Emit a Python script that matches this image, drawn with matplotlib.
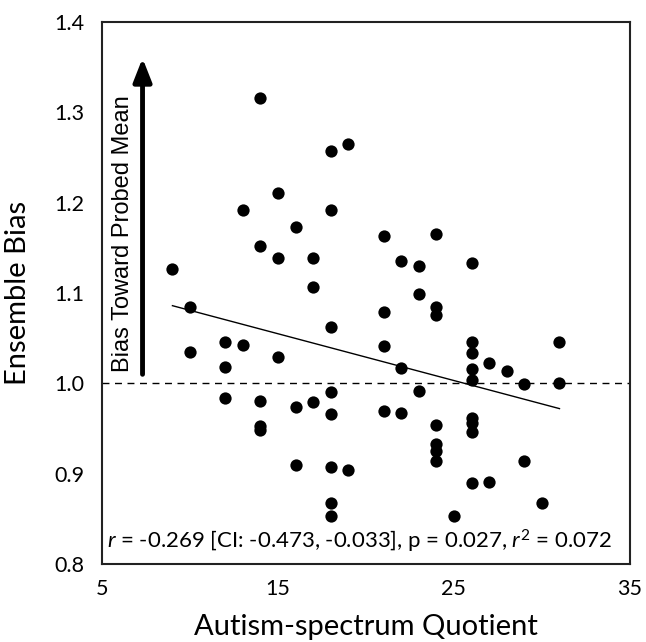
import numpy as np
import matplotlib
matplotlib.use("Agg")
import matplotlib.pyplot as plt

# AQ score and ensemble bias per participant
aq = [9,
      10, 10,
      12, 12, 12,
      13, 13,
      14, 14, 14, 14, 14,
      15, 15, 15,
      16, 16, 16,
      17, 17, 17,
      18, 18, 18, 18, 18, 18, 18, 18,
      19, 19,
      21, 21, 21, 21,
      22, 22, 22,
      23, 23, 23,
      24, 24, 24, 24, 24, 24, 24,
      25,
      26, 26, 26, 26, 26, 26, 26, 26, 26,
      27, 27,
      28,
      29, 29,
      30,
      31, 31]
bias = [1.127,
        1.085, 1.035,
        1.046, 1.018, 0.984,
        1.192, 1.042,
        1.316, 1.152, 0.980, 0.953, 0.948,
        1.211, 1.139, 1.029,
        1.173, 0.974, 0.910,
        1.139, 1.107, 0.979,
        1.257, 1.192, 1.062, 0.990, 0.966, 0.907, 0.868, 0.853,
        1.265, 0.904,
        1.163, 1.079, 1.041, 0.969,
        1.135, 1.017, 0.967,
        1.130, 1.099, 0.991,
        1.165, 1.085, 1.076, 0.954, 0.933, 0.925, 0.914,
        0.853,
        1.133, 1.046, 1.034, 1.016, 1.004, 0.962, 0.956, 0.946, 0.890,
        1.022, 0.891,
        1.014,
        0.999, 0.914,
        0.867,
        1.046, 1.000]

# fitted regression line as drawn in the figure
fit_slope = -0.00518
fit_intercept = 1.1326

x_ticks = [5, 15, 25, 35]
y_ticks = [0.8, 0.9, 1.0, 1.1, 1.2, 1.3, 1.4]
stats_label = r"$r$ = -0.269 [CI: -0.473, -0.033], p = 0.027, $r^2$ = 0.072"

plt.rcParams["font.family"] = ["Lato", "DejaVu Sans"]
plt.rcParams["mathtext.fontset"] = "custom"
plt.rcParams["mathtext.rm"] = "Lato"
plt.rcParams["mathtext.it"] = "Lato:italic"

fig = plt.figure(figsize=(6.46, 6.42), dpi=100)
ax = fig.add_axes([0.158, 0.1215, 0.817, 0.8442])

ax.scatter(aq, bias, s=78, color="black", zorder=3, linewidths=0)

fx = np.array([min(aq), max(aq)])
ax.plot(fx, fit_intercept + fit_slope * fx, color="black", linewidth=1.0, zorder=2)
ax.axhline(1.0, color="black", linewidth=1.0, linestyle=(0, (5, 4)), zorder=1)

# arrow + label on the left
ax.annotate("", xy=(7.3, 1.36), xytext=(7.3, 1.01),
            arrowprops=dict(arrowstyle="-|>,head_length=1.4,head_width=0.55",
                            color="black", linewidth=3.5, shrinkA=0, shrinkB=0))
ax.text(6.2, 1.166, "Bias Toward Probed Mean", rotation=90, ha="center", va="center",
        fontsize=17, family="Liberation Sans")

ax.text(0.487, 0.042, stats_label, transform=ax.transAxes, ha="center", va="center",
        fontsize=16)

ax.set_xlim(5, 35)
ax.set_ylim(0.8, 1.4)
ax.set_xticks(x_ticks)
ax.set_yticks(y_ticks)
ax.set_yticklabels([f"{v:.1f}" for v in y_ticks])
ax.tick_params(length=0, labelsize=15.5)
ax.tick_params(axis="x", pad=11)
ax.tick_params(axis="y", pad=12.5)
for s in ax.spines.values():
    s.set_linewidth(1.5)
    s.set_color("#222222")

ax.set_xlabel("Autism-spectrum Quotient", fontsize=21)
ax.set_ylabel("Ensemble Bias", fontsize=21)
ax.xaxis.label.set_va("baseline")
ax.xaxis.set_label_coords(0.5, -0.131)
ax.yaxis.set_label_coords(-0.135, 0.5)

fig.savefig("out.png", dpi=100)
